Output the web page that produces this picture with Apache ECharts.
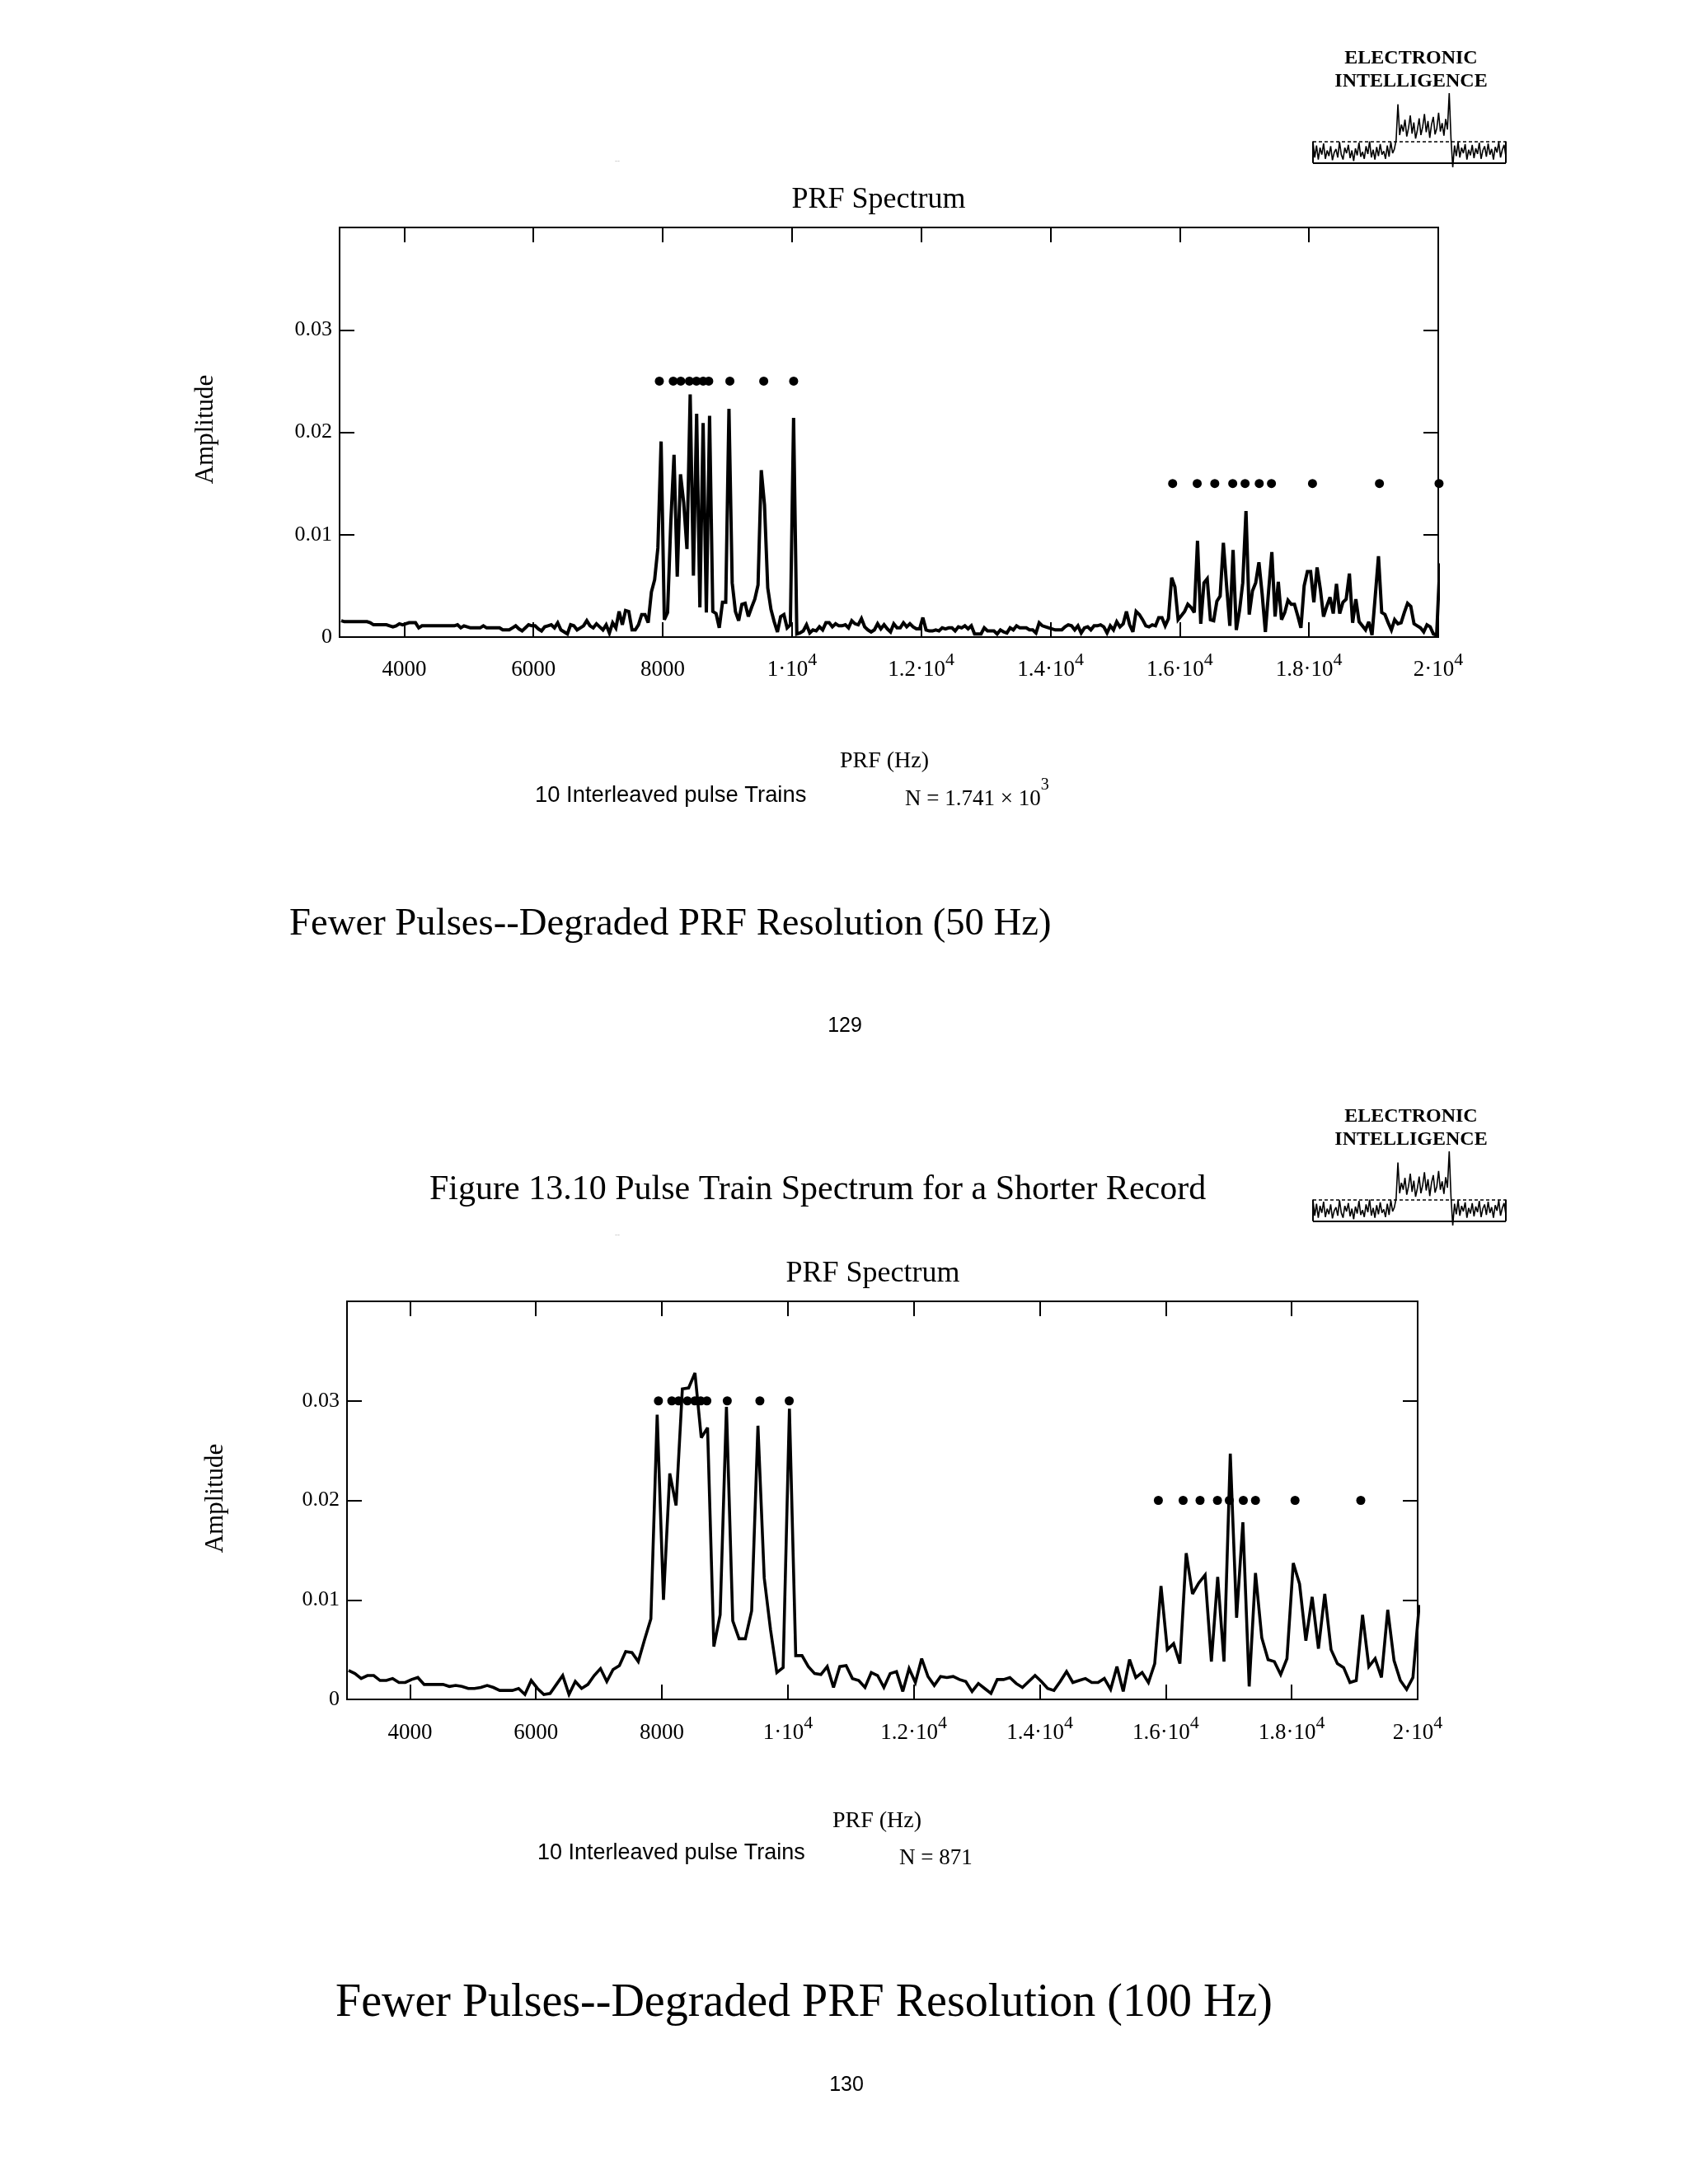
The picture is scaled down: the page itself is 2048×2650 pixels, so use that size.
<!DOCTYPE html>
<html>
<head>
<meta charset="utf-8">
<script src="https://cdn.jsdelivr.net/npm/echarts@6/dist/echarts.min.js"></script>
<style>html,body{margin:0;padding:0;background:#fff}#chart{width:2048px;height:2650px}</style>
</head>
<body>
<div id="chart"></div>
<script>
// ---------------- data ----------------
const X_MIN = 3000, X_MAX = 20000;
const xTicks = [4000, 6000, 8000, 10000, 12000, 14000, 16000, 18000, 20000];
const xTickLabels = ['4000', '6000', '8000', '1·10^4', '1.2·10^4', '1.4·10^4', '1.6·10^4', '1.8·10^4', '2·10^4'];
const yTicks = [0, 0.01, 0.02, 0.03];
const yTickLabels = ['0', '0.01', '0.02', '0.03'];

// Upper spectrum: 50 Hz bins starting at 3025 Hz
const topStart = 3025, topStep = 50;
const topAmp = [
.0016,.0015,.0015,.0015,.0015,.0015,.0015,.0015,.0015,.0014,
.0012,.0012,.0012,.0012,.0012,.0011,.0010,.0011,.0013,.0012,
.0013,.0014,.0014,.0014,.0009,.0011,.0011,.0011,.0011,.0011,
.0011,.0011,.0011,.0011,.0011,.0011,.0012,.0009,.0011,.0010,
.0009,.0009,.0009,.0009,.0011,.0009,.0009,.0009,.0009,.0009,
.0007,.0007,.0007,.0009,.0011,.0008,.0006,.0009,.0012,.0011,
.0011,.0008,.0006,.0010,.0011,.0012,.0009,.0014,.0007,.0005,
.0003,.0012,.0011,.0007,.0009,.0011,.0016,.0011,.0009,.0013,
.0010,.0007,.0012,.0004,.0014,.0009,.0025,.0012,.0026,.0025,
.0007,.0007,.0012,.0022,.0022,.0014,.0044,.0056,.0087,.0191,
.0017,.0024,.0112,.0178,.0059,.0159,.0131,.0086,.0237,.0060,
.0218,.0029,.0209,.0024,.0216,.0025,.0023,.0009,.0034,.0034,
.0223,.0053,.0025,.0016,.0032,.0033,.0020,.0029,.0037,.0051,
.0163,.0129,.0048,.0027,.0015,.0005,.0020,.0022,.0009,.0012,
.0214,.0003,.0004,.0006,.0012,.0004,.0007,.0006,.0010,.0007,
.0014,.0014,.0010,.0013,.0011,.0011,.0012,.0009,.0016,.0013,
.0012,.0018,.0010,.0007,.0005,.0007,.0013,.0008,.0012,.0008,
.0005,.0013,.0009,.0009,.0014,.0010,.0013,.0010,.0008,.0008,
.0019,.0007,.0006,.0006,.0007,.0006,.0009,.0008,.0009,.0009,
.0006,.0010,.0009,.0011,.0008,.0011,.0003,.0003,.0003,.0009,
.0006,.0006,.0006,.0003,.0007,.0005,.0004,.0009,.0007,.0011,
.0009,.0009,.0009,.0007,.0007,.0004,.0014,.0011,.0010,.0009,
.0008,.0007,.0007,.0007,.0010,.0012,.0011,.0007,.0011,.0004,
.0009,.0010,.0007,.0011,.0011,.0012,.0010,.0004,.0011,.0007,
.0015,.0010,.0013,.0025,.0012,.0005,.0025,.0022,.0017,.0011,
.0010,.0012,.0011,.0019,.0019,.0011,.0018,.0058,.0049,.0017,
.0021,.0025,.0032,.0029,.0024,.0094,.0013,.0053,.0057,.0017,
.0016,.0035,.0040,.0092,.0050,.0011,.0085,.0007,.0026,.0053,
.0123,.0022,.0045,.0053,.0073,.0042,.0005,.0045,.0083,.0020,
.0054,.0017,.0024,.0036,.0032,.0032,.0021,.0009,.0050,.0064,
.0064,.0034,.0068,.0047,.0020,.0030,.0039,.0023,.0052,.0023,
.0034,.0037,.0062,.0014,.0037,.0015,.0011,.0007,.0015,.0002,
.0040,.0079,.0024,.0022,.0014,.0007,.0017,.0013,.0014,.0024,
.0033,.0030,.0013,.0011,.0009,.0005,.0012,.0010,.0003,.0002,
.0072
];
const topFund = [7948, 8163, 8279, 8413, 8522, 8626, 8712, 9039, 9563, 10026];
const topFundLevel = 0.025;
const topHarm = [15890, 16270, 16542, 16820, 17011, 17230, 17419, 18054, 19090, 20012];
const topHarmLevel = 0.015;

// Lower spectrum: 100 Hz bins starting at 3025 Hz
const botStart = 3025, botStep = 100;
const botAmp = [
.0029,.0026,.0021,.0024,.0024,.0019,.0019,.0021,.0017,.0017,
.0020,.0022,.0015,.0015,.0015,.0015,.0013,.0014,.0013,.0011,
.0011,.0012,.0014,.0012,.0009,.0009,.0009,.0011,.0005,.0019,
.0011,.0005,.0006,.0015,.0024,.0005,.0018,.0011,.0015,.0024,
.0031,.0018,.0030,.0034,.0048,.0047,.0038,.0060,.0081,.0286,
.0100,.0227,.0195,.0312,.0313,.0328,.0263,.0273,.0053,.0085,
.0294,.0079,.0061,.0061,.0089,.0275,.0122,.0070,.0027,.0032,
.0292,.0044,.0044,.0033,.0026,.0025,.0033,.0012,.0033,.0034,
.0021,.0019,.0012,.0027,.0024,.0012,.0026,.0028,.0008,.0031,
.0017,.0041,.0023,.0014,.0023,.0022,.0023,.0020,.0018,.0008,
.0016,.0011,.0006,.0020,.0020,.0022,.0016,.0012,.0018,.0024,
.0018,.0011,.0009,.0018,.0028,.0017,.0019,.0021,.0017,.0017,
.0021,.0010,.0033,.0008,.0040,.0022,.0027,.0017,.0036,.0114,
.0050,.0056,.0036,.0147,.0106,.0117,.0125,.0038,.0123,.0038,
.0247,.0082,.0178,.0013,.0127,.0062,.0040,.0038,.0025,.0041,
.0137,.0116,.0059,.0103,.0051,.0106,.0050,.0036,.0032,.0017,
.0019,.0085,.0033,.0041,.0022,.0090,.0039,.0019,.0010,.0022,
.0095
];
const botFund = [7945, 8157, 8265, 8405, 8523, 8616, 8714, 9038, 9556, 10022];
const botFundLevel = 0.03;
const botHarm = [15883, 16276, 16545, 16821, 17009, 17232, 17425, 18053, 19097];
const botHarmLevel = 0.02;

// Logo trace (decorative spectrum in the "ELECTRONIC INTELLIGENCE" badge)
const logoTrace = [
0.30,0.08,0.25,0.05,0.22,0.12,0.28,0.06,0.18,0.10,0.24,0.04,0.15,0.20,0.08,0.30,0.12,0.05,0.22,0.14,
0.26,0.07,0.18,0.03,0.21,0.11,0.29,0.09,0.16,0.06,0.24,0.13,0.31,0.08,0.19,0.05,0.23,0.10,0.27,0.12,
0.17,0.06,0.25,0.09,0.30,0.14,0.20,
0.33,0.84,0.40,0.55,0.45,0.62,0.38,0.50,0.68,0.42,0.58,0.35,0.47,0.64,0.40,0.52,0.70,0.44,0.60,0.36,
0.55,0.66,0.41,0.50,0.72,0.45,0.57,0.39,0.63,0.48,1.00,0.35,
-0.06,0.25,0.10,0.30,0.08,0.22,0.14,0.27,0.05,0.19,0.11,0.26,0.07,0.21,0.13,0.29,0.06,0.18,0.24,0.09,
0.28,0.12,0.20,0.05,0.23,0.15,0.30,0.08,0.19,0.26,0.10
];
const logoThreshold = 0.31;

// ---------------- chart ----------------
const SERIF = '"Liberation Serif", "Times New Roman", serif';
const SANS = '"Liberation Sans", Arial, sans-serif';

const chart = echarts.init(document.getElementById('chart'), null, { renderer: 'canvas', width: 2048, height: 2650 });

function xLabel(v) {
  const k = xTicks.indexOf(v);
  if (k < 0) return '';
  const p = xTickLabels[k].split('^');
  return p.length > 1 ? '{m|' + p[0] + '}{s|' + p[1] + '}' : '{m|' + p[0] + '}';
}
function yLabel(v) {
  const k = yTicks.findIndex(t => Math.abs(t - v) < 1e-9);
  return k < 0 ? '' : yTickLabels[k];
}
const xRich = {
  m: { fontFamily: SERIF, fontSize: 27, lineHeight: 46, color: '#000' },
  s: { fontFamily: SERIF, fontSize: 22, verticalAlign: 'top', color: '#000' }
};
const tickStyle = { color: '#000', width: 2 };

function xAxes(g, margin) {
  return [
    { gridIndex: g, type: 'value', position: 'bottom', min: X_MIN, max: X_MAX,
      axisLine: { show: false, onZero: false }, splitLine: { show: false },
      axisTick: { show: true, inside: true, length: 18, lineStyle: tickStyle, customValues: xTicks },
      axisLabel: { customValues: xTicks, formatter: xLabel, margin: margin, rich: xRich, color: '#000' } },
    { gridIndex: g, type: 'value', position: 'top', min: X_MIN, max: X_MAX,
      axisLine: { show: false, onZero: false }, splitLine: { show: false },
      axisTick: { show: true, inside: true, length: 18, lineStyle: tickStyle, customValues: xTicks },
      axisLabel: { show: false } }
  ];
}
function yAxes(g) {
  return [
    { gridIndex: g, type: 'value', position: 'left', min: 0, max: 0.04, interval: 0.01,
      axisLine: { show: false, onZero: false }, splitLine: { show: false },
      axisTick: { show: true, inside: true, length: 18, lineStyle: tickStyle },
      axisLabel: { formatter: yLabel, margin: 9, fontFamily: SERIF, fontSize: 26, color: '#000', showMaxLabel: false } },
    { gridIndex: g, type: 'value', position: 'right', min: 0, max: 0.04, interval: 0.01,
      axisLine: { show: false, onZero: false }, splitLine: { show: false },
      axisTick: { show: true, inside: true, length: 18, lineStyle: tickStyle },
      axisLabel: { show: false } }
  ];
}
function logoAxes(g) {
  return {
    x: { gridIndex: g, type: 'value', min: 0, max: logoTrace.length - 1, show: false },
    y: { gridIndex: g, type: 'value', min: -0.12, max: 1, show: false }
  };
}
function logoSeries(ax) {
  const last = logoTrace.length - 1;
  return {
    type: 'line', xAxisIndex: ax, yAxisIndex: ax, showSymbol: false, symbol: 'none', animation: false,
    data: logoTrace.map((v, i) => [i, v]),
    lineStyle: { color: '#000', width: 1.6 },
    markLine: {
      silent: true, symbol: ['none', 'none'], label: { show: false }, animation: false,
      data: [
        { yAxis: 0, lineStyle: { type: 'solid', width: 2, color: '#000' } },
        { yAxis: logoThreshold, lineStyle: { type: [4, 3], width: 1.6, color: '#000' } },
        [{ coord: [0, 0], lineStyle: { type: 'solid', width: 2, color: '#000' } }, { coord: [0, logoThreshold] }],
        [{ coord: [last, 0], lineStyle: { type: 'solid', width: 2, color: '#000' } }, { coord: [last, logoThreshold] }]
      ]
    }
  };
}
function dots(ax, xs, level, clip) {
  return { type: 'scatter', xAxisIndex: ax, yAxisIndex: ax, symbol: 'circle', symbolSize: 11, clip: clip,
    itemStyle: { color: '#000', opacity: 1 }, z: 5, animation: false, data: xs.map(f => [f, level]) };
}
function spectrum(ax, start, step, amps, width) {
  return { type: 'line', xAxisIndex: ax, yAxisIndex: ax, showSymbol: false, symbol: 'none', animation: false,
    clip: true, data: amps.map((a, i) => [start + i * step, a]),
    lineStyle: { color: '#000', width: width, join: 'miter', miterLimit: 3 }, z: 3 };
}
function txt(text, x, y, font, align, extra) {
  const el = { type: 'text', x: x, y: y, silent: true,
    style: { text: text, font: font, fill: '#000', align: align || 'center', verticalAlign: 'middle',
             textAlign: align || 'center', textVerticalAlign: 'middle' } };
  if (extra) Object.assign(el, extra);
  return el;
}

const l1 = logoAxes(2), l2 = logoAxes(3);
// xAxis/yAxis indices: 0,1 upper chart; 2,3 lower chart; 4,5 logos
const xa = [...xAxes(0, 17), ...xAxes(1, 18), l1.x, l2.x];
const ya = [...yAxes(0), ...yAxes(1), l1.y, l2.y];

const LOGO_OFF = 1284;
const nRich = {
  a: { fontFamily: SERIF, fontSize: 27, lineHeight: 54, color: '#000' },
  s: { fontFamily: SERIF, fontSize: 20, verticalAlign: 'top', color: '#000' }
};

const option = {
  backgroundColor: '#fff',
  animation: false,
  grid: [
    { left: 412, top: 276, width: 1333, height: 497, show: true, borderColor: '#000', borderWidth: 2, backgroundColor: 'transparent' },
    { left: 421, top: 1579, width: 1299, height: 483, show: true, borderColor: '#000', borderWidth: 2, backgroundColor: 'transparent' },
    { left: 1593, top: 113, width: 234, height: 95 },
    { left: 1593, top: 113 + LOGO_OFF, width: 234, height: 95 }
  ],
  xAxis: xa,
  yAxis: ya,
  series: [
    spectrum(0, topStart, topStep, topAmp, 4),
    dots(0, topFund, topFundLevel, true),
    dots(0, topHarm, topHarmLevel, false),
    spectrum(2, botStart, botStep, botAmp, 3.6),
    dots(2, botFund, botFundLevel, true),
    dots(2, botHarm, botHarmLevel, true),
    logoSeries(4),
    logoSeries(5)
  ],
  graphic: [
    txt('ELECTRONIC', 1712, 71, 'bold 24px ' + SERIF),
    txt('INTELLIGENCE', 1712, 99, 'bold 24px ' + SERIF),
    txt('ELECTRONIC', 1712, 71 + LOGO_OFF, 'bold 24px ' + SERIF),
    txt('INTELLIGENCE', 1712, 99 + LOGO_OFF, 'bold 24px ' + SERIF),
    { type: 'text', x: 749, y: 196, silent: true, style: { text: '--', font: '9px ' + SANS, fill: '#bbb', align: 'center', verticalAlign: 'middle' } },
    { type: 'text', x: 749, y: 1499, silent: true, style: { text: '--', font: '9px ' + SANS, fill: '#bbb', align: 'center', verticalAlign: 'middle' } },

    txt('PRF Spectrum', 1066, 243, '36px ' + SERIF),
    txt('Amplitude', 250, 521, '31px ' + SERIF, 'center', { rotation: Math.PI / 2 }),
    txt('PRF (Hz)', 1073, 924, '28px ' + SERIF),
    txt('10 Interleaved pulse Trains', 649, 965, '27.4px ' + SANS, 'left'),
    { type: 'text', x: 1098, y: 970, silent: true,
      style: { text: '{a|N = 1.741 × 10}{s|3}', rich: nRich, font: '27px ' + SERIF, fill: '#000',
               align: 'left', verticalAlign: 'middle', textAlign: 'left', textVerticalAlign: 'middle' } },
    txt('Fewer Pulses--Degraded PRF Resolution (50 Hz)', 351, 1122, '46.7px ' + SERIF, 'left'),
    txt('129', 1025, 1245, '25px ' + SANS),

    txt('Figure 13.10 Pulse Train Spectrum for a Shorter Record', 521, 1444, '42px ' + SERIF, 'left'),
    txt('PRF Spectrum', 1059, 1546, '36px ' + SERIF),
    txt('Amplitude', 262, 1818, '31px ' + SERIF, 'center', { rotation: Math.PI / 2 }),
    txt('PRF (Hz)', 1064, 2210, '28px ' + SERIF),
    txt('10 Interleaved pulse Trains', 652, 2249, '27px ' + SANS, 'left'),
    txt('N = 871', 1091, 2255, '27px ' + SERIF, 'left'),
    txt('Fewer Pulses--Degraded PRF Resolution (100 Hz)', 407, 2431, '56px ' + SERIF, 'left'),
    txt('130', 1027, 2530, '25px ' + SANS)
  ]
};
chart.setOption(option);
</script>
</body>
</html>
